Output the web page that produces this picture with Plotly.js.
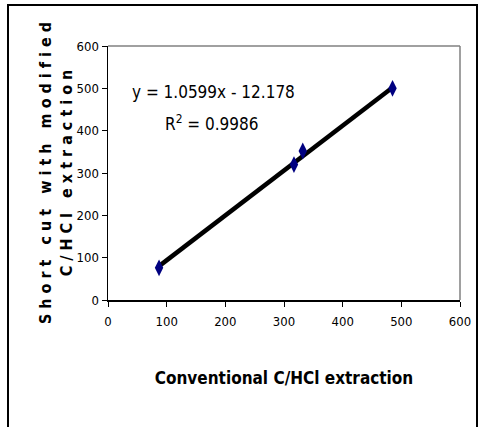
<!DOCTYPE html>
<html><head><meta charset="utf-8">
<script src="https://cdn.plot.ly/plotly-3.0.1.min.js"></script>
<style>
body{margin:0;padding:0;background:#fff;}
#wrap{position:relative;width:479px;height:427px;overflow:hidden;}
#chart{width:479px;height:427px;}
#frame{position:absolute;left:7px;top:4px;width:467px;height:450px;border:2px solid #000;pointer-events:none;}
</style></head>
<body>
<div id="wrap"><div id="chart"></div><div id="frame"></div></div>
<script>
const conventional = [87, 317, 332, 485];
const shortcut = [76, 320, 352, 500];
const slope = 1.0599;
const intercept = -12.178;
const r2 = 0.9986;
const tickVals = [0, 100, 200, 300, 400, 500, 600];

const F = "'DejaVu Sans Condensed', 'DejaVu Sans', sans-serif";
const xmin = Math.min(...conventional), xmax = Math.max(...conventional);
const trendX = [xmin, xmax];
const trendY = trendX.map(v => slope * v + intercept);

const sp = s => s.split('').join(' ').replace(/   /g, '\u00a0\u00a0\u00a0');

Plotly.newPlot('chart', [
  {x: trendX, y: trendY, mode: 'lines', line: {color: '#000', width: 4.5}, hoverinfo: 'skip', showlegend: false},
  {x: conventional, y: shortcut, mode: 'markers', marker: {symbol: 'diamond-tall', size: 12, color: '#000080', line: {width: 0}}, showlegend: false}
], {
  width: 479, height: 427,
  margin: {l: 108, r: 19, t: 46, b: 127},
  paper_bgcolor: '#fff', plot_bgcolor: '#fff',
  showlegend: false,
  font: {family: F, color: '#000'},
  xaxis: {range: [0, 600], tickvals: tickVals, ticks: 'outside', ticklen: 5, tickcolor: '#000',
    showline: true, linecolor: '#000', linewidth: 1.5, showgrid: false, zeroline: false,
    tickfont: {family: F, size: 13}, ticklabelstandoff: 4,
    title: {text: 'Conventional C/HCl extraction', font: {family: F, size: 17, weight: 'bold'}, standoff: 44}},
  yaxis: {range: [0, 600], tickvals: tickVals, ticks: 'outside', ticklen: 5, tickcolor: '#000',
    showline: true, linecolor: '#000', linewidth: 1.5, showgrid: false, zeroline: false,
    tickfont: {family: F, size: 13},
    title: {text: sp('Short cut with modified') + '<br>' + sp('C/HCl extraction'), font: {family: F, size: 16, weight: 'bold'}, standoff: 0}},
  shapes: [
    {type: 'line', xref: 'paper', yref: 'paper', x0: 0, x1: 1, y0: 1, y1: 1, line: {color: '#808080', width: 1.5}},
    {type: 'line', xref: 'paper', yref: 'paper', x0: 1, x1: 1, y0: 0, y1: 1, line: {color: '#808080', width: 1.5}}
  ],
  annotations: [
    {xref: 'paper', yref: 'paper', x: 0.0625, y: 0.819, xanchor: 'left', yanchor: 'middle', showarrow: false,
      text: 'y = ' + slope + 'x - ' + Math.abs(intercept), font: {family: F, size: 17}},
    {xref: 'paper', yref: 'paper', x: 0.156, y: 0.697, xanchor: 'left', yanchor: 'middle', showarrow: false,
      text: 'R<sup>2</sup> = ' + r2, font: {family: F, size: 17}}
  ]
}, {displayModeBar: false, staticPlot: true});
</script>
</body></html>
